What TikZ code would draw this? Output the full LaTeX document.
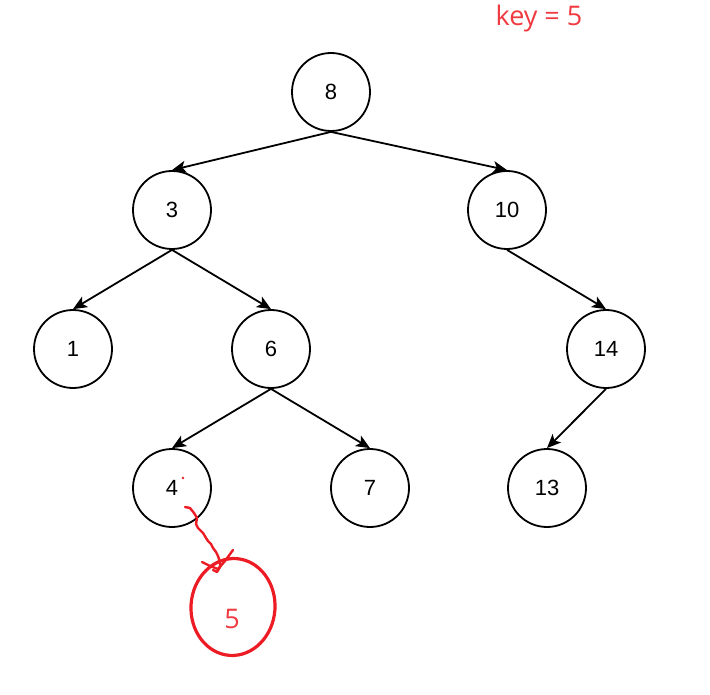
\documentclass[tikz,border=0pt]{standalone}
\usepackage{fontspec}
\setmainfont{Liberation Sans}
\newfontfamily\redfont{Open Sans}
\usetikzlibrary{arrows.meta,shapes.geometric}
\definecolor{pred}{HTML}{ED1C24}
\definecolor{tred}{HTML}{F03A40}
\begin{document}
\begin{tikzpicture}[x=1pt,y=-1pt,
  bnode/.style={circle,draw=black,line width=1.8pt,minimum size=78pt,inner sep=0pt,font=\fontsize{22}{24}\selectfont},
  edge/.style={draw=black,line width=1.8pt,-{Stealth[length=14pt,width=12pt,inset=3.5pt]}}]
\useasboundingbox (0,0) rectangle (710,695);
\node[bnode] (n8) at (331,92) {8};
\node[bnode] (n3) at (172,210) {3};
\node[bnode] (n10) at (507,210) {10};
\node[bnode] (n1) at (73,349) {1};
\node[bnode] (n6) at (271,349) {6};
\node[bnode] (n14) at (606,349) {14};
\node[bnode] (n4) at (172,488) {4};
\node[bnode] (n7) at (370,488) {7};
\node[bnode] (n13) at (547,488) {13};
\draw[edge] (n8.south) -- (n3.north);
\draw[edge] (n8.south) -- (n10.north);
\draw[edge] (n3.south) -- (n1.north);
\draw[edge] (n3.south) -- (n6.north);
\draw[edge] (n10.south) -- (n14.north);
\draw[edge] (n6.south) -- (n4.north);
\draw[edge] (n6.south) -- (n7.north);
\draw[edge] (n14.south) -- (n13.north);
% key label
\node[text=tred,font=\redfont\fontsize{27}{30}\selectfont,anchor=center] (key) at (539,18) {key = 5};
% red hand-drawn part
\node[ellipse,draw=pred,line width=3.2pt,minimum width=84pt,minimum height=97pt,inner sep=0pt,rotate=-4] (n5) at (233,607) {};
\node[text=tred,font=\redfont\fontsize{27}{30}\selectfont] (l5) at (232,619) {5};
\fill[pred] (183,478) circle (1.3pt);
\draw[pred,line width=2.4pt,line cap=round,line join=round]
  (185,507) -- (190,508) -- (194,513) -- (197,518) -- (196,524) -- (198,528) -- (203,533)
  -- (206,538) -- (208,541) -- (211,544) -- (213,548) -- (216,552) -- (218,556) -- (220,562) -- (220,567) -- (217,572) -- (213,570);
\draw[pred,line width=2.4pt,line cap=round,line join=round]
  (202,562) -- (210,566) -- (218,569) -- (225,561) -- (233,550);
\end{tikzpicture}
\end{document}
